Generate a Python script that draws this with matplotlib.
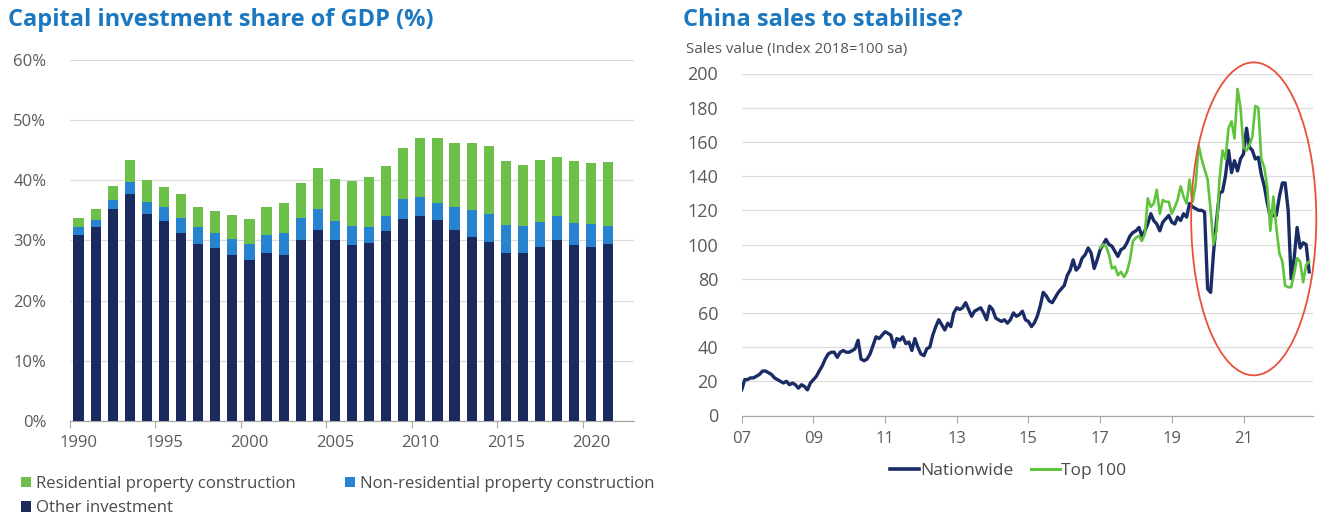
import matplotlib
matplotlib.use('Agg')
import matplotlib.pyplot as plt
import matplotlib.dates as mdates
import numpy as np
import pandas as pd
from matplotlib.patches import Ellipse, Patch
from matplotlib.lines import Line2D

plt.rcParams['font.family'] = ['Open Sans', 'DejaVu Sans']

# ---------------- data: left chart ----------------
years = list(range(1990, 2022))
other_investment = [30.9, 32.2, 35.2, 37.7, 34.4, 33.3, 31.3, 29.5, 28.7, 27.6,
                    26.7, 27.9, 27.6, 30.1, 31.8, 30.1, 29.2, 29.6, 31.5, 33.6,
                    34.1, 33.4, 31.7, 30.6, 29.7, 27.9, 27.9, 28.9, 30.1, 29.2,
                    29.0, 29.5]
nonres_construction = [1.3, 1.2, 1.5, 2.1, 2.0, 2.3, 2.5, 2.7, 2.6, 2.7,
                       2.8, 3.0, 3.7, 3.7, 3.4, 3.2, 3.2, 2.7, 2.6, 3.3,
                       3.2, 2.9, 3.9, 4.4, 4.7, 4.7, 4.5, 4.2, 4.0, 3.7,
                       3.7, 2.9]
res_construction = [1.6, 1.8, 2.4, 3.6, 3.7, 3.3, 3.9, 3.3, 3.6, 3.9,
                    4.1, 4.7, 5.0, 5.8, 6.8, 6.9, 7.5, 8.2, 8.3, 8.5,
                    9.8, 10.8, 10.6, 11.2, 11.3, 10.6, 10.2, 10.2, 9.8, 10.3,
                    10.2, 10.6]
left_yticks = [0, 10, 20, 30, 40, 50, 60]
left_ytick_labels = ['0%', '10%', '20%', '30%', '40%', '50%', '60%']
left_xlabel_years = [1990, 1995, 2000, 2005, 2010, 2015, 2020]

# ---------------- data: right chart (monthly, Jan 2007 - Nov 2022) ----------------
nationwide = [
    15, 21, 21, 22, 22, 23, 24, 26, 26, 25, 24, 22,      # 2007
    21, 20, 19, 20, 18, 19, 18, 16, 18, 17, 15, 19,      # 2008
    21, 23, 26, 29, 33, 36, 37, 37, 34, 37, 38, 37,      # 2009
    37, 38, 39, 44, 33, 32, 33, 36, 41, 46, 45, 47,      # 2010
    49, 48, 47, 40, 45, 44, 46, 42, 43, 38, 45, 40,      # 2011
    36, 35, 39, 40, 47, 52, 56, 53, 50, 54, 52, 60,      # 2012
    63, 62, 63, 66, 62, 58, 61, 62, 63, 60, 56, 64,      # 2013
    62, 57, 56, 55, 56, 54, 56, 60, 58, 59, 61, 56,      # 2014
    55, 52, 54, 58, 64, 72, 70, 67, 66, 69, 72, 74,      # 2015
    76, 82, 85, 91, 85, 87, 92, 94, 98, 95, 86, 91,      # 2016
    97, 100, 103, 100, 99, 96, 93, 97, 98, 101, 105, 107,  # 2017
    108, 110, 105, 108, 112, 118, 114, 112, 108, 113, 115, 117,  # 2018
    113, 112, 116, 114, 118, 116, 124, 122, 121, 120, 120, 119,  # 2019
    74, 72, 95, 114, 130, 131, 140, 155, 142, 149, 143, 150,     # 2020
    153, 168, 157, 155, 150, 151, 141, 134, 124, 116, 117, 117,  # 2021
    128, 136, 136, 120, 80, 92, 110, 98, 101, 100, 84,           # 2022
]
top100 = [
    98, 100, 99, 94, 86, 87, 82, 84, 81, 84, 91, 102,            # 2017
    104, 105, 102, 106, 127, 122, 124, 132, 118, 126, 125, 125,  # 2018
    118, 122, 126, 134, 128, 124, 138, 125, 135, 158, 150, 144,  # 2019
    138, 120, 100, 108, 138, 155, 150, 168, 172, 162, 191, 180,  # 2020
    157, 155, 158, 163, 181, 180, 150, 145, 133, 108, 128, 110,  # 2021
    95, 90, 76, 75, 75, 83, 92, 90, 78, 88, 90,                  # 2022
]
right_yticks = list(range(0, 201, 20))
right_xtick_years = [2007, 2009, 2011, 2013, 2015, 2017, 2019, 2021]
right_xtick_labels = ['07', '09', '11', '13', '15', '17', '19', '21']

# ---------------- styling ----------------
NAVY = '#1b2a5c'
BLUE = '#2783cf'
GREEN = '#6cc04a'
LINE_NAVY = '#1a2c66'
LINE_GREEN = '#5fc43c'
TITLE_BLUE = '#1b78c0'
TICK_GRAY = '#5a5a5a'
GRID = '#dcdcdc'
AXIS = '#a8a8a8'

W, H = 1325, 517
fig = plt.figure(figsize=(W / 100, H / 100), dpi=100)
fig.patch.set_facecolor('white')

# ---------------- left chart ----------------
axL = fig.add_axes([70 / W, 1 - 421 / H, (634 - 70) / W, (421 - 60) / H])
x = np.arange(len(years))
bw = 0.6
axL.bar(x, other_investment, bw, color=NAVY, zorder=3)
axL.bar(x, nonres_construction, bw, bottom=other_investment, color=BLUE, zorder=3)
bottom2 = np.array(other_investment) + np.array(nonres_construction)
axL.bar(x, res_construction, bw, bottom=bottom2, color=GREEN, zorder=3)

axL.set_xlim(-0.5, len(years) + 0.5)
axL.set_ylim(0, 60)
axL.set_yticks(left_yticks)
axL.set_yticklabels(left_ytick_labels)
lab_pos = [years.index(y) for y in left_xlabel_years]
axL.set_xticks(lab_pos)
axL.set_xticklabels([str(y) for y in left_xlabel_years])
axL.set_xticks([p - 0.5 for p in lab_pos], minor=True)
axL.tick_params(axis='x', which='major', length=0, pad=10, labelsize=12, labelcolor=TICK_GRAY)
axL.tick_params(axis='x', which='minor', length=5, color=AXIS, width=0.8)
axL.tick_params(axis='y', length=0, pad=17, labelsize=12, labelcolor=TICK_GRAY)
for s in ['top', 'right', 'left']:
    axL.spines[s].set_visible(False)
axL.spines['bottom'].set_color(AXIS)
axL.spines['bottom'].set_linewidth(0.9)
axL.grid(axis='y', color=GRID, linewidth=0.9, zorder=0)
axL.set_axisbelow(True)

fig.text(8 / W, 1 - 20 / H, 'Capital investment share of GDP (%)', fontsize=17,
         fontweight='bold', color=TITLE_BLUE, va='center', ha='left')

handlesL = [Patch(facecolor=GREEN, label='Residential property construction'),
            Patch(facecolor=NAVY, label='Other investment'),
            Patch(facecolor=BLUE, label='Non-residential property construction')]
legL = fig.legend(handles=handlesL, ncol=2, loc='upper left',
                  bbox_to_anchor=(21 / W, 1 - 476 / H), frameon=False,
                  fontsize=12.1, handlelength=0.6, handleheight=0.6,
                  handletextpad=0.3, columnspacing=2.9, labelspacing=0.5,
                  borderaxespad=0, borderpad=0)
for t in legL.get_texts():
    t.set_color('#4a4a4a')

# ---------------- right chart ----------------
axR = fig.add_axes([741.7 / W, 1 - 415.5 / H, (1313 - 741.7) / W, (415.5 - 73.5) / H])
dates_nat = pd.date_range('2007-01-01', periods=len(nationwide), freq='MS')
dates_top = dates_nat[len(nationwide) - len(top100):]
axR.plot(dates_nat, nationwide, color=LINE_NAVY, lw=2.4, zorder=3,
         solid_joinstyle='round', label='Nationwide')
axR.plot(dates_top, top100, color=LINE_GREEN, lw=1.9, zorder=4,
         solid_joinstyle='round', label='Top 100')

axR.set_ylim(0, 200)
axR.set_yticks(right_yticks)
axR.set_xlim(pd.Timestamp('2007-01-01'), pd.Timestamp('2022-12-10'))
axR.set_xticks([pd.Timestamp(f'{y}-01-01') for y in right_xtick_years])
axR.set_xticklabels(right_xtick_labels)
axR.tick_params(axis='x', length=5, color=AXIS, width=0.8, pad=6, labelsize=12,
                labelcolor=TICK_GRAY)
axR.tick_params(axis='y', length=0, pad=17, labelsize=13, labelcolor=TICK_GRAY)
for s in ['top', 'right', 'left']:
    axR.spines[s].set_visible(False)
axR.spines['bottom'].set_color(AXIS)
axR.spines['bottom'].set_linewidth(0.9)
axR.grid(axis='y', color=GRID, linewidth=0.9, zorder=0)
axR.set_axisbelow(True)

# red ellipse highlighting recent period
cx = mdates.date2num(pd.Timestamp('2021-04-15'))
ell = Ellipse((cx, 115), width=1275, height=183, fill=False,
              edgecolor='#e8503a', lw=1.3, clip_on=False, zorder=5)
axR.add_patch(ell)

fig.text(683 / W, 1 - 20 / H, 'China sales to stabilise?', fontsize=17,
         fontweight='bold', color=TITLE_BLUE, va='center', ha='left')
fig.text(686 / W, 1 - 50 / H, 'Sales value (Index 2018=100 sa)', fontsize=10.8,
         color='#555555', va='center', ha='left')

legR = fig.legend(handles=[Line2D([], [], color=LINE_NAVY, lw=2.6, label='Nationwide'),
                           Line2D([], [], color=LINE_GREEN, lw=2.2, label='Top 100')],
                  ncol=2, loc='center', bbox_to_anchor=(1008 / W, 1 - 471 / H),
                  frameon=False, fontsize=12.5, handlelength=1.7, handletextpad=0.05,
                  columnspacing=1.0, borderaxespad=0, borderpad=0)
for t in legR.get_texts():
    t.set_color('#4a4a4a')

fig.savefig('out.png', dpi=100, facecolor='white')
